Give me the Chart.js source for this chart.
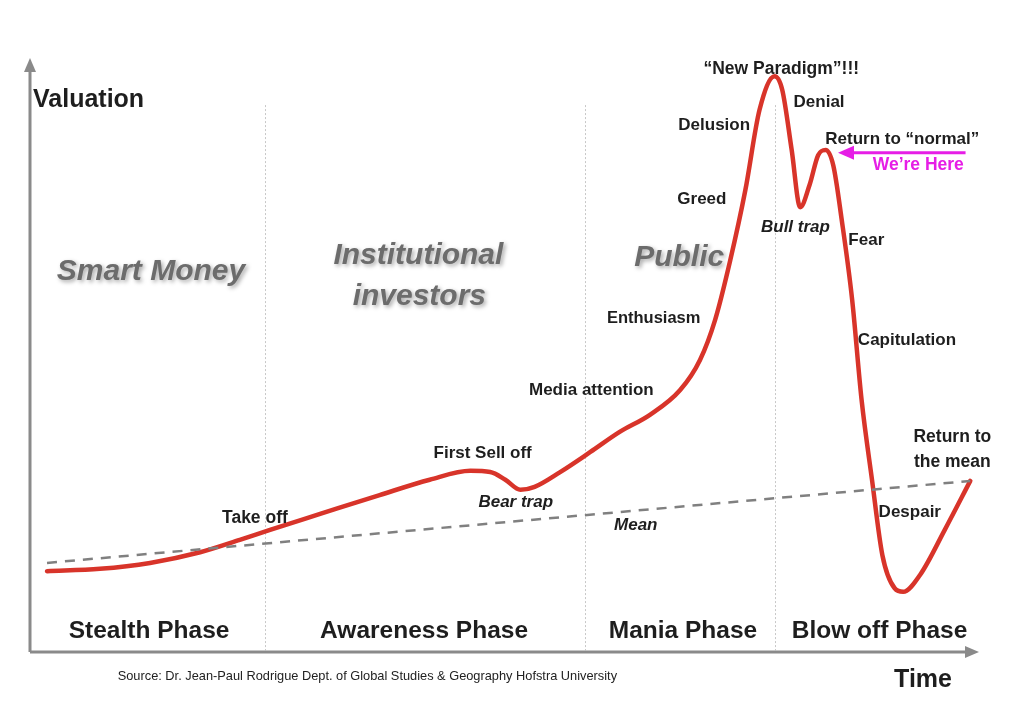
<!DOCTYPE html>
<html lang="en">
<head>
  <meta charset="UTF-8" />
  <title>Stages in a Bubble</title>
  <script src="https://cdn.jsdelivr.net/npm/chart.js"></script>
  <style>
    html, body { margin: 0; padding: 0; background: #fff; }
    #wrap { width: 1024px; height: 720px; }
  </style>
</head>
<body>
  <div id="wrap"><canvas id="bubble"></canvas></div>
  <script>
    // time (0-100) and valuation (0-100)
    const timeValues = [1.8, 7.4, 12.7, 18.0, 22.2, 25.4, 30.7, 37.0, 42.3, 46.6, 48.7, 50.3, 51.9, 53.4, 56.1,
      59.3, 62.4, 65.6, 68.8, 70.9, 72.5, 74.1, 75.7, 77.2, 78.8, 79.6, 80.6, 81.5, 82.5, 83.4, 84.2, 85.0,
      85.9, 87.0, 88.0, 89.1, 90.2, 91.5, 92.4, 94.2, 96.8, 99.5];
    const valuationValues = [13.7, 14.1, 15.1, 16.9, 19.0, 20.7, 23.4, 26.6, 29.2, 30.7, 30.5, 29.2, 27.5, 28.0, 30.5,
      33.9, 37.3, 40.2, 44.4, 49.5, 56.3, 66.4, 78.3, 91.9, 97.6, 95.3, 85.1, 75.4, 79.2, 84.2, 85.1, 82.5,
      73.2, 59.7, 42.7, 29.2, 16.4, 10.8, 10.2, 13.1, 20.7, 29.0];
    const meanTime = [1.8, 99.5];
    const meanValues = [15.1, 29.0];

    const phaseNames = ['Stealth Phase', 'Awareness Phase', 'Mania Phase', 'Blow off Phase'];
    const phaseCenters = [12.6, 41.7, 69.1, 89.9];
    const phaseBounds = [24.9, 58.7, 78.8];

    const BOLD = '"Liberation Sans", Arial, sans-serif';
    const dark = '#1e1e1e';

    // text notes, placed in the same time/valuation units
    const notes = [
      { t: '\u201cNew Paradigm\u201d!!!', x: 79.5, y: 98.8, size: 17.5 },
      { t: 'Denial', x: 83.5, y: 93.2, size: 17 },
      { t: 'Delusion', x: 72.4, y: 89.2, size: 17 },
      { t: 'Return to \u201cnormal\u201d', x: 92.3, y: 86.9, size: 17 },
      { t: 'We\u2019re Here', x: 94.0, y: 82.5, size: 17.5, color: '#e61ee6' },
      { t: 'Greed', x: 71.1, y: 76.8, size: 17 },
      { t: 'Bull trap', x: 81.0, y: 72.0, size: 17, italic: true },
      { t: 'Fear', x: 88.5, y: 69.8, size: 17 },
      { t: 'Enthusiasm', x: 66.0, y: 56.6, size: 16.5 },
      { t: 'Capitulation', x: 92.8, y: 52.9, size: 17 },
      { t: 'Media attention', x: 59.4, y: 44.4, size: 17 },
      { t: 'Return to', x: 97.6, y: 36.4, size: 17.5 },
      { t: 'the mean', x: 97.6, y: 32.2, size: 17.5 },
      { t: 'First Sell off', x: 47.9, y: 33.7, size: 17 },
      { t: 'Bear trap', x: 51.4, y: 25.4, size: 17, italic: true },
      { t: 'Take off', x: 23.8, y: 22.7, size: 17.5 },
      { t: 'Despair', x: 93.1, y: 23.6, size: 17 },
      { t: 'Mean', x: 64.1, y: 21.4, size: 17, italic: true }
    ];
    const groups = [
      { t: 'Smart Money', x: 12.8, y: 64.4 },
      { t: 'Institutional', x: 41.1, y: 67.1 },
      { t: 'investors', x: 41.2, y: 60.2 },
      { t: 'Public', x: 68.7, y: 66.9 }
    ];
    const herePointer = { from: 99.0, to: 85.5, y: 84.6 };

    const curve = timeValues.map((x, i) => ({ x, y: valuationValues[i] }));
    const mean = meanTime.map((x, i) => ({ x, y: meanValues[i] }));

    function text(ctx, s, x, y, font, color, align) {
      ctx.font = font;
      ctx.fillStyle = color;
      ctx.textAlign = align || 'center';
      ctx.textBaseline = 'middle';
      ctx.fillText(s, x, y);
    }

    const backdrop = {
      id: 'backdrop',
      beforeDatasetsDraw(chart) {
        const { ctx, scales: { x, y } } = chart;
        ctx.save();
        // phase dividers
        ctx.strokeStyle = '#c8c8c8';
        ctx.lineWidth = 1;
        ctx.setLineDash([2, 2]);
        phaseBounds.forEach(b => {
          const px = Math.round(x.getPixelForValue(b)) + 0.5;
          ctx.beginPath();
          ctx.moveTo(px, y.getPixelForValue(92.7));
          ctx.lineTo(px, y.getPixelForValue(0.3));
          ctx.stroke();
        });
        ctx.setLineDash([]);
        // group labels, grey bold italic with soft shadow
        ctx.shadowColor = 'rgba(0,0,0,0.35)';
        ctx.shadowBlur = 4;
        ctx.shadowOffsetX = 2;
        ctx.shadowOffsetY = 2;
        groups.forEach(g => text(ctx, g.t, x.getPixelForValue(g.x), y.getPixelForValue(g.y),
          'italic bold 30px ' + BOLD, '#6c6c6c'));
        ctx.restore();
      },
      afterDatasetsDraw(chart) {
        const { ctx, chartArea: a, scales: { x, y } } = chart;
        ctx.save();
        // axes with arrow heads
        ctx.strokeStyle = '#8a8a8a';
        ctx.fillStyle = '#8a8a8a';
        ctx.lineWidth = 3;
        ctx.beginPath();
        ctx.moveTo(a.left, a.bottom);
        ctx.lineTo(a.left, a.top + 8);
        ctx.moveTo(a.left, a.bottom);
        ctx.lineTo(a.right - 6, a.bottom);
        ctx.stroke();
        ctx.beginPath();
        ctx.moveTo(a.left, a.top - 4);
        ctx.lineTo(a.left - 6, a.top + 10);
        ctx.lineTo(a.left + 6, a.top + 10);
        ctx.closePath();
        ctx.fill();
        ctx.beginPath();
        ctx.moveTo(a.right + 4, a.bottom);
        ctx.lineTo(a.right - 10, a.bottom - 6);
        ctx.lineTo(a.right - 10, a.bottom + 6);
        ctx.closePath();
        ctx.fill();

        text(ctx, 'Valuation', a.left + 3, a.top + 38, 'bold 25px ' + BOLD, dark, 'left');

        notes.forEach(n => text(ctx, n.t, x.getPixelForValue(n.x), y.getPixelForValue(n.y),
          (n.italic ? 'italic ' : '') + 'bold ' + n.size + 'px ' + BOLD, n.color || dark));

        phaseNames.forEach((p, i) => text(ctx, p, x.getPixelForValue(phaseCenters[i]), y.getPixelForValue(3.6),
          'bold 24.5px ' + BOLD, dark));

        // "We're here" pointer
        const hy = y.getPixelForValue(herePointer.y);
        const hx0 = x.getPixelForValue(herePointer.from);
        const hx1 = x.getPixelForValue(herePointer.to);
        ctx.strokeStyle = '#e61ee6';
        ctx.fillStyle = '#e61ee6';
        ctx.lineWidth = 3;
        ctx.beginPath();
        ctx.moveTo(hx0, hy);
        ctx.lineTo(hx1 + 12, hy);
        ctx.stroke();
        ctx.beginPath();
        ctx.moveTo(hx1, hy);
        ctx.lineTo(hx1 + 16, hy - 7);
        ctx.lineTo(hx1 + 16, hy + 7);
        ctx.closePath();
        ctx.fill();

        text(ctx, 'Source: Dr. Jean-Paul Rodrigue Dept. of Global Studies & Geography Hofstra University',
          x.getPixelForValue(35.7), y.getPixelForValue(-4.2), '12.8px ' + BOLD, '#222');
        text(ctx, 'Time', x.getPixelForValue(94.5), y.getPixelForValue(-4.7), 'bold 25px ' + BOLD, dark);
        ctx.restore();
      }
    };

    new Chart(document.getElementById('bubble').getContext('2d'), {
      type: 'line',
      data: {
        datasets: [
          {
            label: 'Mean',
            data: mean,
            borderColor: '#808080',
            borderWidth: 2.5,
            borderDash: [10, 8],
            pointRadius: 0,
            fill: false
          },
          {
            label: 'Valuation',
            data: curve,
            borderColor: '#d8342a',
            borderWidth: 4.5,
            borderCapStyle: 'round',
            borderJoinStyle: 'round',
            cubicInterpolationMode: 'monotone',
            pointRadius: 0,
            fill: false
          }
        ]
      },
      options: {
        responsive: true,
        maintainAspectRatio: false,
        animation: false,
        layout: { padding: { left: 30, top: 62, right: 49, bottom: 68 } },
        plugins: { legend: { display: false }, tooltip: { enabled: false } },
        scales: {
          x: { type: 'linear', min: 0, max: 100, display: false },
          y: { min: 0, max: 100, display: false }
        }
      },
      plugins: [backdrop]
    });
  </script>
</body>
</html>
